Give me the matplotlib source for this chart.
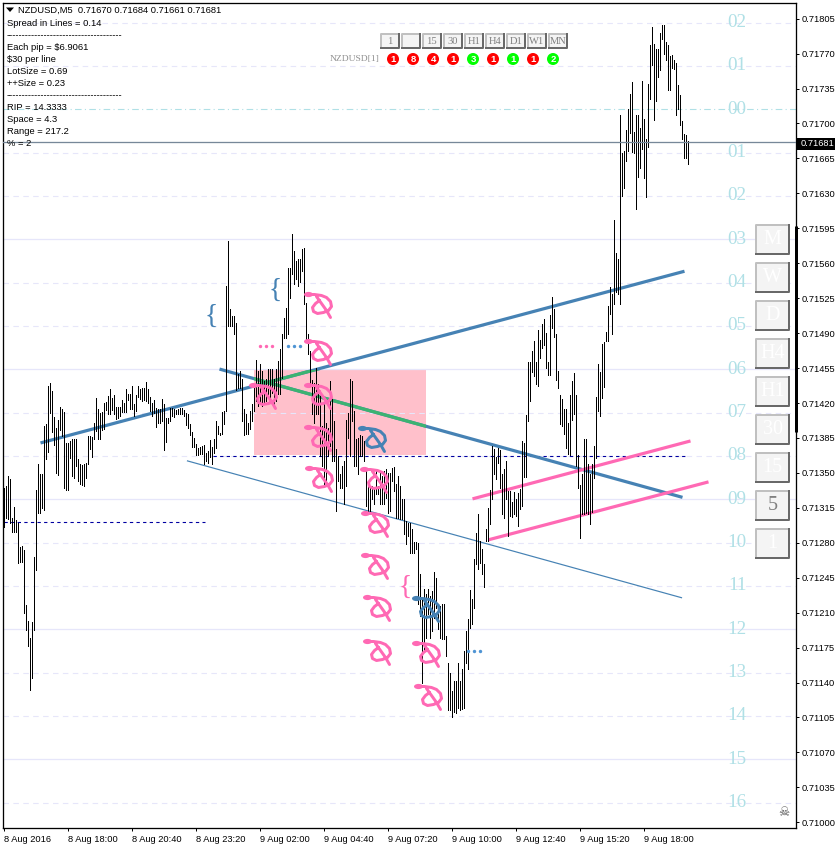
import matplotlib
matplotlib.use("Agg")
import matplotlib.pyplot as plt
from matplotlib.patches import Rectangle, Circle
from matplotlib.path import Path
from matplotlib.markers import MarkerStyle

plt.rcParams['font.family'] = ['Liberation Sans', 'DejaVu Sans']

# ---- data: prices are 0.71000 + pts * 0.00001, bars are 5 minute bars ----
high_pts = [
335,337,347,344,305,316,303,300,276,277,
273,218,202,185,201,266,333,359,349,349,
397,399,437,440,432,406,395,403,416,414,
411,380,380,382,384,384,384,364,359,358,
359,360,387,387,386,400,425,414,410,411,
420,421,427,434,425,428,416,416,416,423,
420,434,429,429,437,419,428,437,434,435,
435,441,434,426,420,423,415,414,414,424,
419,405,405,415,415,414,413,414,415,415,
413,410,409,399,391,385,379,375,376,377,
378,370,372,383,376,384,402,397,390,411,
412,537,582,514,507,507,500,449,452,444,
414,409,400,412,419,437,463,452,459,452,
442,444,454,454,454,444,454,462,474,489,
505,515,555,555,589,572,562,564,564,574,
575,520,489,472,443,440,455,439,427,397,
420,400,395,442,424,402,374,367,349,357,
362,403,410,444,442,412,384,385,388,387,
382,355,337,337,337,335,354,337,350,347,
352,354,350,350,355,356,339,347,337,324,
324,302,300,300,294,281,281,280,249,225,
234,229,234,227,232,251,245,217,217,219,
219,187,160,150,132,142,142,160,142,154,
172,192,204,233,224,264,290,309,282,274,
259,294,315,333,377,374,366,375,373,349,
354,362,332,332,321,331,324,330,334,382,
380,408,461,461,472,482,461,493,483,499,
504,490,461,508,526,514,489,452,428,424,
414,414,400,428,442,450,428,368,338,349,
384,384,359,349,359,377,426,459,451,479,
481,491,517,536,529,603,570,564,709,670,
672,693,715,730,742,691,709,709,695,743,
705,684,740,779,797,780,775,775,791,799,
799,782,779,768,769,764,761,739,729,702,
689,688,682]
low_pts = [
296,305,304,300,291,291,291,260,261,261,
210,193,177,133,145,193,253,310,310,315,
313,364,371,410,391,378,350,348,393,387,
335,333,333,365,347,345,357,342,339,338,
337,345,359,374,366,384,392,384,384,393,
394,413,409,409,413,409,404,405,407,411,
411,411,423,414,414,407,412,426,424,422,
423,422,420,412,407,410,396,400,400,402,
373,381,400,402,407,406,409,409,409,409,
407,398,395,388,376,376,368,368,369,369,
359,362,360,366,359,370,375,389,388,389,
399,412,497,497,497,489,433,435,435,402,
388,389,389,394,402,412,422,417,422,417,
419,422,429,425,430,419,422,429,429,445,
485,485,489,525,549,539,544,537,541,552,
519,482,469,439,409,400,409,409,367,357,
337,337,367,377,362,362,312,342,335,335,
319,337,385,367,402,357,357,349,367,367,
362,317,312,310,324,319,329,329,319,319,
319,325,310,312,342,332,305,305,304,304,
289,279,287,270,270,270,274,219,207,140,
172,185,209,185,192,205,215,194,185,184,
184,167,112,112,105,110,109,115,112,114,
115,160,154,195,199,215,259,254,260,249,
236,282,282,299,324,349,344,360,335,309,
305,324,287,307,306,309,307,297,314,317,
346,346,402,422,451,447,439,437,465,475,
478,455,448,448,495,486,443,435,399,397,
389,375,369,368,403,409,357,335,285,309,
309,310,309,299,311,345,365,412,407,425,
436,482,482,509,489,519,531,529,519,627,
635,662,672,690,671,670,614,646,655,674,
645,626,676,725,759,703,723,747,754,785,
770,764,734,734,756,755,709,715,698,684,
665,665,659]

time_labels = ["8 Aug 2016", "8 Aug 18:00", "8 Aug 20:40", "8 Aug 23:20", "9 Aug 02:00",
               "9 Aug 04:40", "9 Aug 07:20", "9 Aug 10:00", "9 Aug 12:40", "9 Aug 15:20",
               "9 Aug 18:00"]
time_ticks = [0, 32, 64, 96, 128, 160, 192, 224, 256, 288, 320]
price_ticks = [0.71 + 35e-5 * k for k in range(24)]

level_names = ["02","01","00","01","02","03","04","05","06","07","08","09","10",
               "11","12","13","14","15","16"]
level_pts = [801,757.6,714.2,670.8,627.4,584,540.6,497.2,453.8,410.4,367,323.6,280.2,
             236.8,193.4,150,106.6,63.2,19.8]
level_style = ["d","d","z","d","d","s","d","d","s","d","d","s","d","d","s","d","d","s","d"]

last_price = 0.71681
zone_bars = [125, 211]
zone_pts = [367.5, 453.5]
thick_blue = [([18.5, 340.5], [380, 552]), ([108, 339.5], [454, 325.5])]
thin_blue = ([92, 339], [362, 225])
pink_lines = [([234.5, 343.5], [324, 382]), ([242.5, 352.5], [283, 341])]
dash_lines = [([0, 100.5], [301, 301]), ([104.5, 342], [367, 367])]
arrow_pink_bars = [151, 151, 151, 151, 151.5, 179, 179.5, 123.5, 179.5, 180.5, 180.5, 205, 206]
arrow_pink_pts = [529, 482, 438, 396, 355, 354, 310, 438, 268, 226, 182, 180, 137]
arrow_blue_bars = [178, 205]
arrow_blue_pts = [395, 225]
dots_pink = ([128, 131, 134], [477, 477, 477])
dots_blue = ([142, 145, 148, 232, 235, 238], [477, 477, 477, 172, 172, 172])
brace_items = [(104, 507, '#4682B4'), (136, 533, '#4682B4'), (201, 235, '#FF69B4')]

info_lines = ["Spread in Lines = 0.14", "-" * 37, "Each pip = $6.9061", "$30 per line",
              "LotSize = 0.69", "++Size = 0.23", "-" * 37, "RIP = 14.3333", "Space = 4.3",
              "Range = 217.2", "% = 2"]
top_buttons = ["1", "", "15", "30", "H1", "H4", "D1", "W1", "MN"]
side_buttons = ["M", "W", "D", "H4", "H1", "30", "15", "5", "1"]
signal_digits = ["1", "8", "4", "1", "3", "1", "1", "1", "2"]
signal_colors = ["#FF0000", "#FF0000", "#FF0000", "#FF0000", "#00FF00", "#FF0000",
                 "#00FF00", "#FF0000", "#00FF00"]


def P(pts):
    return [0.71 + v * 1e-5 for v in pts] if hasattr(pts, "__len__") else 0.71 + pts * 1e-5


W, H = 838, 848
PX = 0.72
BLUE, PINK, GREEN, TURQ, LAV = '#4682B4', '#FF69B4', '#3CB371', '#B0E0E6', '#E6E6FA'
NAVY = '#0000A0'

fig = plt.figure(figsize=(W / 100, H / 100), dpi=100, facecolor='white')
ax = fig.add_axes([2.5 / W, (H - 827.5) / H, 793 / W, 825 / H])
ax.set_xlim(-0.5, 396)
ax.set_ylim(0.71 - 5.2e-5, 0.71 + 821.2e-5)
for s in ax.spines.values():
    s.set_linewidth(1.0 * PX * 1.3)

ax.yaxis.tick_right()
ax.set_yticks(price_ticks)
ax.set_yticklabels([f"{v:.5f}" for v in price_ticks], fontsize=6.7)
ax.tick_params(axis='y', length=2.2, width=PX, pad=2.5)
ax.set_xticks(time_ticks)
ax.set_xticklabels(time_labels, fontsize=6.7, ha='left')
ax.tick_params(axis='x', length=2.2, width=PX, pad=3.5)

# zone
zone = Rectangle((zone_bars[0], P(zone_pts[0])), zone_bars[1] - zone_bars[0],
                 P(zone_pts[1]) - P(zone_pts[0]), facecolor='#FFC0CB', edgecolor='none', zorder=1)
ax.add_patch(zone)

# levels
for nm, pt, st in zip(level_names, level_pts, level_style):
    if st == "s":
        ax.axhline(P(pt), color=LAV, lw=1.3 * PX, zorder=1.5)
    elif st == "z":
        ax.axhline(P(pt), color=TURQ, lw=1.1 * PX, ls=(0, (6, 3, 1, 3)), zorder=1.5)
    else:
        ax.axhline(P(pt), color=LAV, lw=1.1 * PX, ls=(0, (5, 4)), zorder=1.5)
    ax.text(366.8, P(pt), nm, color=TURQ, fontsize=13.8, family='Liberation Serif',
            ha='center', va='center', zorder=2)

# trend lines
for xs, ys in dash_lines:
    ax.plot(xs, P(ys), color=NAVY, lw=1.1 * PX, ls=(0, (3, 3)), zorder=2)
ax.plot(thin_blue[0], P(thin_blue[1]), color=BLUE, lw=1.2 * PX, zorder=3)
for xs, ys in thick_blue:
    ax.plot(xs, P(ys), color=BLUE, lw=3.2 * PX, solid_capstyle='butt', zorder=3)
    g, = ax.plot(xs, P(ys), color=GREEN, lw=3.2 * PX, solid_capstyle='butt', zorder=3.1)
    g.set_clip_path(zone)
for xs, ys in pink_lines:
    ax.plot(xs, P(ys), color=PINK, lw=3.2 * PX, solid_capstyle='butt', zorder=3)

# bars
ax.vlines(range(len(high_pts)), P(low_pts), P(high_pts), color='black', lw=PX, zorder=4,
          antialiased=False)

# current price
ax.axhline(last_price, color='#778899', lw=1.3 * PX, zorder=4.5)

# arrow glyph markers
loop = [(0, 0), (8, 0), (15, 1), (20, 3), (24, 7), (25, 12), (22, 16), (17, 18), (11, 19),
        (7, 17), (6, 13), (9, 9), (13, 6)]
tail = [(10, 2), (15, 9), (20, 16), (24, 23)]
verts = [(a, -b) for a, b in loop] + [(a, -b) for a, b in tail]
codes = [Path.MOVETO] + [Path.LINETO] * (len(loop) - 1) + [Path.MOVETO] + [Path.LINETO] * (len(tail) - 1)
bow = MarkerStyle(Path(verts, codes), fillstyle='none', joinstyle='round', capstyle='round')
head = MarkerStyle(Path.unit_circle().transformed(
    matplotlib.transforms.Affine2D().scale(4.5, 2.6).translate(2, 0)))
for bars, pts, col in [(arrow_pink_bars, arrow_pink_pts, PINK), (arrow_blue_bars, arrow_blue_pts, BLUE)]:
    ax.plot(bars, P(pts), ls='none', marker=bow, ms=50 * PX, mew=3 * PX, mec=col, mfc='none', zorder=5)
    ax.plot(bars, P(pts), ls='none', marker=head, ms=13 * PX, mew=0, mfc=col, zorder=5)

# dots and braces
ax.plot(dots_pink[0], P(dots_pink[1]), ls='none', marker='o', ms=3.4 * PX, mew=0, color=PINK, zorder=5)
ax.plot(dots_blue[0], P(dots_blue[1]), ls='none', marker='o', ms=3.4 * PX, mew=0, color='#4F94D4', zorder=5)
for b, pt, col in brace_items:
    ax.text(b, P(pt), "{", color=col, fontsize=20, family='Liberation Serif', ha='center',
            va='center', zorder=5)

# ---- interface furniture, in pixel coordinates ----
ui = fig.add_axes([0, 0, 1, 1], zorder=10)
ui.set_xlim(0, W)
ui.set_ylim(H, 0)
ui.axis('off')
ui.patch.set_alpha(0)

ui.fill([6, 14, 10], [7.5, 7.5, 12], color='black', lw=0)
ui.text(18, 10.5, "NZDUSD,M5  0.71670 0.71684 0.71661 0.71681", fontsize=6.75, va='center', color='black')
for i, s in enumerate(info_lines):
    ui.text(7, 24 + 12 * i, s, fontsize=6.75, va='center', color='black')

ui.plot([795.5, 795.5], [226, 432], color='black', lw=3 * PX, solid_capstyle='butt')
ui.add_patch(Rectangle((797, 138), 38, 11.5, facecolor='black', edgecolor='none', zorder=5))
ui.text(801, 144, "0.71681", color='white', fontsize=6.7, va='center', zorder=6)


def button(x0, y0, w, h, label, col, fs, bw):
    ui.add_patch(Rectangle((x0, y0), w, h, facecolor='#F4F4F4', edgecolor='none', zorder=3))
    ui.plot([x0 + w, x0, x0], [y0, y0, y0 + h], color='#C0C0C0', lw=bw * PX, zorder=4, solid_capstyle='projecting')
    ui.plot([x0, x0 + w, x0 + w], [y0 + h, y0 + h, y0], color='#696969', lw=bw * PX, zorder=4, solid_capstyle='projecting')
    ui.text(x0 + w / 2, y0 + h / 2 + 0.5, label, color=col, fontsize=fs, family='Liberation Serif',
            ha='center', va='center', zorder=5)


for k, lab in enumerate(top_buttons):
    button(381 + 21 * k, 34, 17.5, 14, lab, '#808080', 7.6, 2)
for k, lab in enumerate(side_buttons):
    button(756, 224.5 + 38 * k, 33, 29.5, lab, '#808080' if lab == "5" else 'white', 14.5, 2)

ui.text(380, 59.5, "NZDUSD[1]", color='#909090', fontsize=6.8, family='Liberation Serif', ha='right', va='center')
for k, (dg, cl) in enumerate(zip(signal_digits, signal_colors)):
    ui.add_patch(Circle((393 + 20 * k, 59), 6, facecolor=cl, edgecolor='none', zorder=3))
    ui.text(393 + 20 * k, 59.3, dg, color='white', fontsize=6.8, fontweight='bold', ha='center', va='center', zorder=4)

ui.text(784, 813, "\u2620", family='DejaVu Sans', color='#555555', fontsize=9, ha='center', va='center')

fig.savefig("out.png", dpi=100, facecolor='white')
